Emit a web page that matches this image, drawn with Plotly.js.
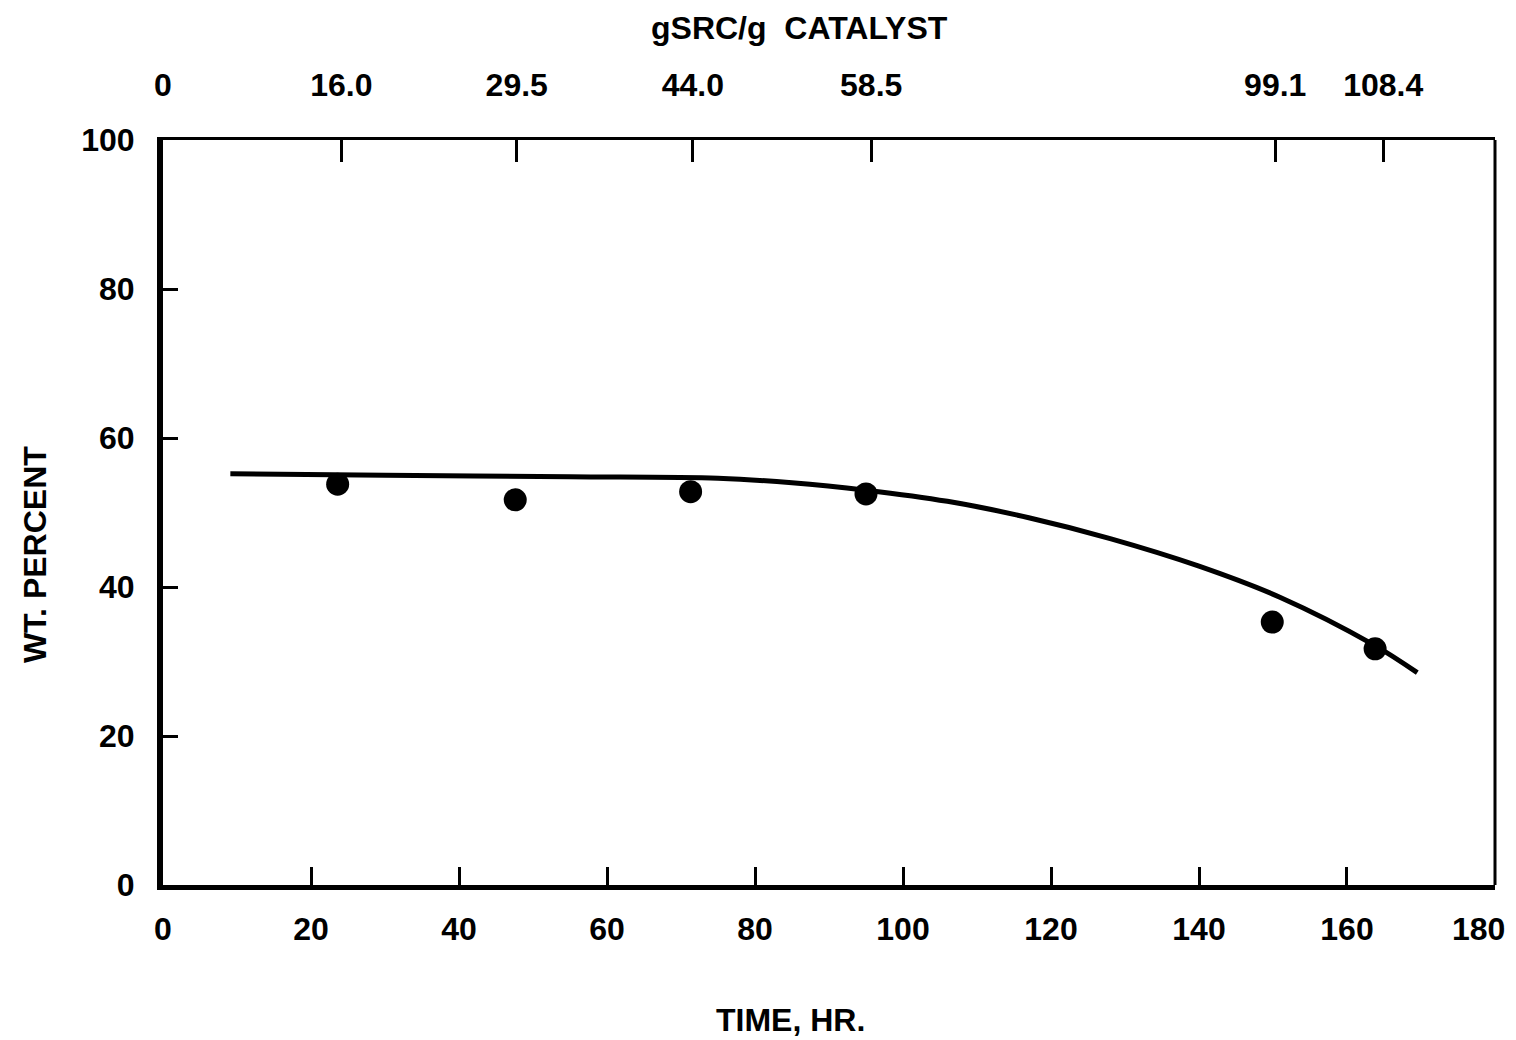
<!DOCTYPE html>
<html>
<head>
<meta charset="utf-8">
<script src="https://cdn.plot.ly/plotly-3.0.1.min.js"></script>
<style>html,body{margin:0;padding:0;background:#fff;}#chart{width:1516px;height:1040px;}</style>
</head>
<body>
<div id="chart"></div>
<script>
// Measured data points
const timeHr = [23.6, 47.6, 71.3, 95.0, 149.9, 163.8];
const wtPercent = [53.8, 51.7, 52.8, 52.5, 35.3, 31.7];

// Hand-drawn fitted curve
const curveTime = [9.1, 30, 55, 75, 85, 95, 106, 117, 128, 140, 151, 163.5, 169.5];
const curveWt   = [55.2, 55.0, 54.8, 54.6, 54.0, 53.0, 51.5, 49.3, 46.5, 42.8, 38.6, 32.3, 28.5];

// Top axis: cumulative gSRC per g catalyst at each sample time
const catalystTickTimes = [0, 24.1, 47.8, 71.6, 95.7, 150.3, 164.9];
const catalystTickLabels = ["0", "16.0", "29.5", "44.0", "58.5", "99.1", "108.4"];

// Bottom / left axis ticks (the last time label sits left of the frame edge, as in the original)
const timeTicks = [0, 20, 40, 60, 80, 100, 120, 140, 160];
const timeTickLabels = ["0", "20", "40", "60", "80", "100", "120", "140", "160"];
const timeEndTick = 180;
const timeEndLabel = "180";
const wtTicks = [0, 20, 40, 60, 80, 100];

const FONT = "Liberation Sans, Arial, Helvetica, sans-serif";
const TF = {family: FONT, size: 32, color: "#000", weight: "bold"};

const traces = [
  {
    x: curveTime, y: curveWt, type: "scatter", mode: "lines",
    line: {color: "#000", width: 5, shape: "spline", smoothing: 1},
    hoverinfo: "skip", showlegend: false
  },
  {
    x: timeHr, y: wtPercent, type: "scatter", mode: "markers",
    marker: {color: "#000", size: 23}, showlegend: false
  },
  {
    x: catalystTickTimes, y: catalystTickTimes.map(() => null), xaxis: "x2", type: "scatter",
    mode: "markers", showlegend: false, hoverinfo: "skip"
  }
];

const layout = {
  width: 1516, height: 1040,
  paper_bgcolor: "#fff", plot_bgcolor: "#fff",
  margin: {l: 163, r: 21, t: 140, b: 155},
  font: TF,
  showlegend: false,
  xaxis: {
    range: [-0.001, 180.001], tickvals: timeTicks, ticktext: timeTickLabels,
    ticks: "inside", ticklen: 18, tickwidth: 3, tickcolor: "#000",
    showline: true, linewidth: 5, linecolor: "#000",
    showgrid: false, zeroline: false, ticklabelstandoff: 12,
    tickfont: TF
  },
  xaxis2: {
    overlaying: "x", side: "top", range: [-0.001, 180.001],
    tickvals: catalystTickTimes, ticktext: catalystTickLabels,
    ticks: "inside", ticklen: 22, tickwidth: 3, tickcolor: "#000",
    showline: true, linewidth: 3, linecolor: "#000",
    showgrid: false, zeroline: false, ticklabelstandoff: 28,
    tickfont: TF
  },
  yaxis: {
    range: [0, 100], tickvals: wtTicks, ticktext: wtTicks.map(String),
    ticks: "inside", ticklen: 15, tickwidth: 3, tickcolor: "#000",
    showline: true, linewidth: 6, linecolor: "#000",
    showgrid: false, zeroline: false, ticklabelstandoff: 16,
    tickfont: TF
  },
  shapes: [
    {type: "line", xref: "paper", yref: "paper", x0: 1, x1: 1, y0: 0, y1: 1,
     line: {color: "#000", width: 3}}
  ],
  annotations: [
    {text: timeEndLabel, xref: "x", yref: "paper", x: timeEndTick, y: -0.059,
     showarrow: false, xanchor: "right", yanchor: "middle", xshift: 12, font: TF},
    {text: "TIME, HR.", xref: "paper", yref: "paper", x: 0.471, y: -0.181,
     showarrow: false, xanchor: "center", yanchor: "middle", font: TF},
    {text: "gSRC/g  CATALYST", xref: "paper", yref: "paper", x: 0.478, y: 1.150,
     showarrow: false, xanchor: "center", yanchor: "middle", font: TF},
    {text: "WT. PERCENT", xref: "paper", yref: "paper", x: -0.096, y: 0.443,
     showarrow: false, textangle: -90, xanchor: "center", yanchor: "middle", font: TF}
  ]
};

Plotly.newPlot("chart", traces, layout, {displayModeBar: false, staticPlot: true});
</script>
</body>
</html>
